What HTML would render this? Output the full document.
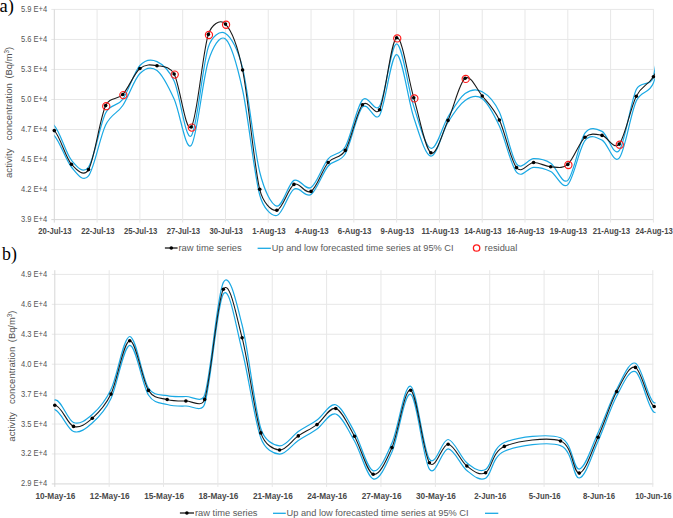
<!DOCTYPE html><html><head><meta charset="utf-8"><style>
html,body{margin:0;padding:0;background:#fff;overflow:hidden;}
svg{display:block;}
text{font-family:"Liberation Sans",sans-serif;}
.yl{font-size:8.6px;fill:#555555;}
.xl{font-size:8.4px;font-weight:bold;fill:#494949;}
.lg{font-size:9.6px;fill:#595959;}
.tt{font-size:9.6px;fill:#505050;}
.pl{font-family:"Liberation Serif",serif;font-size:18.5px;fill:#000;}
</style></head><body>
<svg width="673" height="518" viewBox="0 0 673 518">
<rect width="673" height="518" fill="#fff"/>
<line x1="51.3" y1="9.4" x2="653.9" y2="9.4" stroke="#e7e7e7" stroke-width="1"/>
<line x1="51.3" y1="39.43" x2="653.9" y2="39.43" stroke="#e7e7e7" stroke-width="1"/>
<line x1="51.3" y1="69.46" x2="653.9" y2="69.46" stroke="#e7e7e7" stroke-width="1"/>
<line x1="51.3" y1="99.49" x2="653.9" y2="99.49" stroke="#e7e7e7" stroke-width="1"/>
<line x1="51.3" y1="129.52" x2="653.9" y2="129.52" stroke="#e7e7e7" stroke-width="1"/>
<line x1="51.3" y1="159.55" x2="653.9" y2="159.55" stroke="#e7e7e7" stroke-width="1"/>
<line x1="51.3" y1="189.58" x2="653.9" y2="189.58" stroke="#e7e7e7" stroke-width="1"/>
<line x1="51.3" y1="219.61" x2="653.9" y2="219.61" stroke="#d6d6d6" stroke-width="1"/>
<line x1="54.3" y1="9.4" x2="54.3" y2="222.61" stroke="#d6d6d6" stroke-width="1"/>
<line x1="97.09" y1="9.4" x2="97.09" y2="222.61" stroke="#e7e7e7" stroke-width="1"/>
<line x1="139.89" y1="9.4" x2="139.89" y2="222.61" stroke="#e7e7e7" stroke-width="1"/>
<line x1="182.68" y1="9.4" x2="182.68" y2="222.61" stroke="#e7e7e7" stroke-width="1"/>
<line x1="225.47" y1="9.4" x2="225.47" y2="222.61" stroke="#e7e7e7" stroke-width="1"/>
<line x1="268.26" y1="9.4" x2="268.26" y2="222.61" stroke="#e7e7e7" stroke-width="1"/>
<line x1="311.06" y1="9.4" x2="311.06" y2="222.61" stroke="#e7e7e7" stroke-width="1"/>
<line x1="353.85" y1="9.4" x2="353.85" y2="222.61" stroke="#e7e7e7" stroke-width="1"/>
<line x1="396.64" y1="9.4" x2="396.64" y2="222.61" stroke="#e7e7e7" stroke-width="1"/>
<line x1="439.44" y1="9.4" x2="439.44" y2="222.61" stroke="#e7e7e7" stroke-width="1"/>
<line x1="482.23" y1="9.4" x2="482.23" y2="222.61" stroke="#e7e7e7" stroke-width="1"/>
<line x1="525.02" y1="9.4" x2="525.02" y2="222.61" stroke="#e7e7e7" stroke-width="1"/>
<line x1="567.81" y1="9.4" x2="567.81" y2="222.61" stroke="#e7e7e7" stroke-width="1"/>
<line x1="610.61" y1="9.4" x2="610.61" y2="222.61" stroke="#e7e7e7" stroke-width="1"/>
<line x1="653.4" y1="9.4" x2="653.4" y2="222.61" stroke="#e7e7e7" stroke-width="1"/>
<text x="47.2" y="11.9" text-anchor="end" textLength="26.2" lengthAdjust="spacingAndGlyphs" class="yl">5.9 E+4</text>
<text x="47.2" y="41.93" text-anchor="end" textLength="26.2" lengthAdjust="spacingAndGlyphs" class="yl">5.6 E+4</text>
<text x="47.2" y="71.96" text-anchor="end" textLength="26.2" lengthAdjust="spacingAndGlyphs" class="yl">5.3 E+4</text>
<text x="47.2" y="101.99" text-anchor="end" textLength="26.2" lengthAdjust="spacingAndGlyphs" class="yl">5.0 E+4</text>
<text x="47.2" y="132.02" text-anchor="end" textLength="26.2" lengthAdjust="spacingAndGlyphs" class="yl">4.7 E+4</text>
<text x="47.2" y="162.05" text-anchor="end" textLength="26.2" lengthAdjust="spacingAndGlyphs" class="yl">4.5 E+4</text>
<text x="47.2" y="192.08" text-anchor="end" textLength="26.2" lengthAdjust="spacingAndGlyphs" class="yl">4.2 E+4</text>
<text x="47.2" y="222.11" text-anchor="end" textLength="26.2" lengthAdjust="spacingAndGlyphs" class="yl">3.9 E+4</text>
<text x="55" y="233.9" text-anchor="middle" textLength="33.3" lengthAdjust="spacingAndGlyphs" class="xl">20-Jul-13</text>
<text x="97.79" y="233.9" text-anchor="middle" textLength="33.3" lengthAdjust="spacingAndGlyphs" class="xl">22-Jul-13</text>
<text x="140.59" y="233.9" text-anchor="middle" textLength="33.3" lengthAdjust="spacingAndGlyphs" class="xl">25-Jul-13</text>
<text x="183.38" y="233.9" text-anchor="middle" textLength="33.3" lengthAdjust="spacingAndGlyphs" class="xl">27-Jul-13</text>
<text x="226.17" y="233.9" text-anchor="middle" textLength="33.3" lengthAdjust="spacingAndGlyphs" class="xl">30-Jul-13</text>
<text x="268.96" y="233.9" text-anchor="middle" textLength="33.5" lengthAdjust="spacingAndGlyphs" class="xl">1-Aug-13</text>
<text x="311.76" y="233.9" text-anchor="middle" textLength="33.5" lengthAdjust="spacingAndGlyphs" class="xl">4-Aug-13</text>
<text x="354.55" y="233.9" text-anchor="middle" textLength="33.5" lengthAdjust="spacingAndGlyphs" class="xl">6-Aug-13</text>
<text x="397.34" y="233.9" text-anchor="middle" textLength="33.5" lengthAdjust="spacingAndGlyphs" class="xl">9-Aug-13</text>
<text x="440.14" y="233.9" text-anchor="middle" textLength="37.3" lengthAdjust="spacingAndGlyphs" class="xl">11-Aug-13</text>
<text x="482.93" y="233.9" text-anchor="middle" textLength="37.3" lengthAdjust="spacingAndGlyphs" class="xl">14-Aug-13</text>
<text x="525.72" y="233.9" text-anchor="middle" textLength="37.3" lengthAdjust="spacingAndGlyphs" class="xl">16-Aug-13</text>
<text x="568.51" y="233.9" text-anchor="middle" textLength="37.3" lengthAdjust="spacingAndGlyphs" class="xl">19-Aug-13</text>
<text x="611.31" y="233.9" text-anchor="middle" textLength="37.3" lengthAdjust="spacingAndGlyphs" class="xl">21-Aug-13</text>
<text x="654.1" y="233.9" text-anchor="middle" textLength="37.3" lengthAdjust="spacingAndGlyphs" class="xl">24-Aug-13</text>
<line x1="51.8" y1="274.4" x2="653.3" y2="274.4" stroke="#e7e7e7" stroke-width="1"/>
<line x1="51.8" y1="304.33" x2="653.3" y2="304.33" stroke="#e7e7e7" stroke-width="1"/>
<line x1="51.8" y1="334.26" x2="653.3" y2="334.26" stroke="#e7e7e7" stroke-width="1"/>
<line x1="51.8" y1="364.19" x2="653.3" y2="364.19" stroke="#e7e7e7" stroke-width="1"/>
<line x1="51.8" y1="394.12" x2="653.3" y2="394.12" stroke="#e7e7e7" stroke-width="1"/>
<line x1="51.8" y1="424.05" x2="653.3" y2="424.05" stroke="#e7e7e7" stroke-width="1"/>
<line x1="51.8" y1="453.98" x2="653.3" y2="453.98" stroke="#e7e7e7" stroke-width="1"/>
<line x1="51.8" y1="483.91" x2="653.3" y2="483.91" stroke="#d6d6d6" stroke-width="1"/>
<line x1="54.8" y1="270.2" x2="54.8" y2="486.91" stroke="#d6d6d6" stroke-width="1"/>
<line x1="109.16" y1="270.2" x2="109.16" y2="486.91" stroke="#e7e7e7" stroke-width="1"/>
<line x1="163.53" y1="270.2" x2="163.53" y2="486.91" stroke="#e7e7e7" stroke-width="1"/>
<line x1="217.89" y1="270.2" x2="217.89" y2="486.91" stroke="#e7e7e7" stroke-width="1"/>
<line x1="272.25" y1="270.2" x2="272.25" y2="486.91" stroke="#e7e7e7" stroke-width="1"/>
<line x1="326.62" y1="270.2" x2="326.62" y2="486.91" stroke="#e7e7e7" stroke-width="1"/>
<line x1="380.98" y1="270.2" x2="380.98" y2="486.91" stroke="#e7e7e7" stroke-width="1"/>
<line x1="435.35" y1="270.2" x2="435.35" y2="486.91" stroke="#e7e7e7" stroke-width="1"/>
<line x1="489.71" y1="270.2" x2="489.71" y2="486.91" stroke="#e7e7e7" stroke-width="1"/>
<line x1="544.07" y1="270.2" x2="544.07" y2="486.91" stroke="#e7e7e7" stroke-width="1"/>
<line x1="598.44" y1="270.2" x2="598.44" y2="486.91" stroke="#e7e7e7" stroke-width="1"/>
<line x1="652.8" y1="270.2" x2="652.8" y2="486.91" stroke="#e7e7e7" stroke-width="1"/>
<text x="47.2" y="276.9" text-anchor="end" textLength="26.2" lengthAdjust="spacingAndGlyphs" class="yl">4.9 E+4</text>
<text x="47.2" y="306.83" text-anchor="end" textLength="26.2" lengthAdjust="spacingAndGlyphs" class="yl">4.6 E+4</text>
<text x="47.2" y="336.76" text-anchor="end" textLength="26.2" lengthAdjust="spacingAndGlyphs" class="yl">4.3 E+4</text>
<text x="47.2" y="366.69" text-anchor="end" textLength="26.2" lengthAdjust="spacingAndGlyphs" class="yl">4.0 E+4</text>
<text x="47.2" y="396.62" text-anchor="end" textLength="26.2" lengthAdjust="spacingAndGlyphs" class="yl">3.7 E+4</text>
<text x="47.2" y="426.55" text-anchor="end" textLength="26.2" lengthAdjust="spacingAndGlyphs" class="yl">3.5 E+4</text>
<text x="47.2" y="456.48" text-anchor="end" textLength="26.2" lengthAdjust="spacingAndGlyphs" class="yl">3.2 E+4</text>
<text x="47.2" y="486.41" text-anchor="end" textLength="26.2" lengthAdjust="spacingAndGlyphs" class="yl">2.9 E+4</text>
<text x="55.4" y="498.8" text-anchor="middle" textLength="39.9" lengthAdjust="spacingAndGlyphs" class="xl">10-May-16</text>
<text x="109.76" y="498.8" text-anchor="middle" textLength="39.9" lengthAdjust="spacingAndGlyphs" class="xl">12-May-16</text>
<text x="164.13" y="498.8" text-anchor="middle" textLength="39.9" lengthAdjust="spacingAndGlyphs" class="xl">15-May-16</text>
<text x="218.49" y="498.8" text-anchor="middle" textLength="39.9" lengthAdjust="spacingAndGlyphs" class="xl">18-May-16</text>
<text x="272.85" y="498.8" text-anchor="middle" textLength="39.9" lengthAdjust="spacingAndGlyphs" class="xl">21-May-16</text>
<text x="327.22" y="498.8" text-anchor="middle" textLength="39.9" lengthAdjust="spacingAndGlyphs" class="xl">24-May-16</text>
<text x="381.58" y="498.8" text-anchor="middle" textLength="39.9" lengthAdjust="spacingAndGlyphs" class="xl">27-May-16</text>
<text x="435.95" y="498.8" text-anchor="middle" textLength="39.9" lengthAdjust="spacingAndGlyphs" class="xl">30-May-16</text>
<text x="490.31" y="498.8" text-anchor="middle" textLength="32" lengthAdjust="spacingAndGlyphs" class="xl">2-Jun-16</text>
<text x="544.67" y="498.8" text-anchor="middle" textLength="32" lengthAdjust="spacingAndGlyphs" class="xl">5-Jun-16</text>
<text x="599.04" y="498.8" text-anchor="middle" textLength="32" lengthAdjust="spacingAndGlyphs" class="xl">8-Jun-16</text>
<text x="653.4" y="498.8" text-anchor="middle" textLength="36.4" lengthAdjust="spacingAndGlyphs" class="xl">10-Jun-16</text>
<defs><clipPath id="ca"><rect x="54.3" y="0" width="600.6" height="240"/></clipPath><clipPath id="cb"><rect x="54.5" y="255" width="601" height="240"/></clipPath></defs>
<g clip-path="url(#ca)">
<path d="M37.18,127 C40.04,126.77 48.59,120.07 54.3,125.6 C60.01,131.13 65.71,153.3 71.42,160.2 C77.12,167.1 83.13,174.45 88.53,167 C94.24,159.13 99.95,124.28 105.65,113 C110.6,103.22 117.06,107.22 122.77,99.3 C128.47,91.38 134.18,71.78 139.89,65.5 C145.59,59.22 151.3,59.02 157,61.6 C162.71,64.18 168.71,69.25 174.12,81 C179.83,93.38 185.53,141.57 191.24,135.9 C196.94,130.23 202.65,64.08 208.35,47 C211.82,36.63 219.77,29.9 225.47,33.4 C231.18,36.9 237.96,49.26 242.59,68 C248.29,91.1 254,148.98 259.71,172 C264.3,190.52 271.12,204.7 276.82,206.1 C282.53,207.5 288.23,183.5 293.94,180.4 C299.65,177.3 305.35,191.08 311.06,187.5 C316.76,183.92 322.47,165.7 328.17,158.9 C333.88,152.1 340.01,155.79 345.29,146.7 C351,136.88 356.7,106.75 362.41,100 C368.11,93.25 374.78,113.97 379.53,106.2 C385.23,96.85 390.94,43.87 396.64,43.9 C402.35,43.93 408.05,89 413.76,106.4 C419.47,123.8 425.17,146.53 430.88,148.3 C436.58,150.07 442.29,126.13 447.99,117 C453.7,107.87 459.41,97.72 465.11,93.5 C470.82,89.28 476.52,88.62 482.23,91.7 C487.93,94.78 493.65,100.01 499.35,112 C505.05,124.02 510.76,156.02 516.46,163.8 C521.74,171 527.87,158.8 533.58,158.7 C539.29,158.6 544.99,159.58 550.7,163.2 C556.4,166.82 562.11,185.4 567.81,180.4 C573.52,175.4 579.23,141.37 584.93,133.2 C589.86,126.15 596.34,128.5 602.05,131.4 C607.75,134.3 613.46,157.58 619.17,150.6 C624.87,143.62 630.58,101.77 636.28,89.5 C640.75,79.89 650.96,87.31 653.4,77 C659.11,52.92 667.66,-33 670.52,-55" fill="none" stroke="#1aa9e4" stroke-width="1.2"/>
<path d="M37.18,131 C40.04,131.78 48.59,129.7 54.3,135.7 C60.01,141.7 65.71,160.3 71.42,167 C77.12,173.7 82.83,182.9 88.53,175.9 C94.24,168.9 99.95,136.73 105.65,125 C111.32,113.33 117.06,114.08 122.77,105.5 C128.47,96.92 134.18,79.33 139.89,73.5 C145.59,67.67 151.3,66.25 157,70.5 C162.71,74.75 168.41,86.52 174.12,99 C179.83,111.48 185.53,151.73 191.24,145.4 C196.94,139.07 202.65,78.73 208.35,61 C212.62,47.73 219.77,34.17 225.47,39 C231.18,43.83 236.88,64 242.59,90 C248.29,116 254,174.08 259.71,195 C263.22,207.88 271.12,216.47 276.82,215.5 C282.53,214.53 288.23,192.7 293.94,189.2 C299.65,185.7 305.35,198.37 311.06,194.5 C316.76,190.63 322.47,172.78 328.17,166 C333.88,159.22 340,162.88 345.29,153.8 C351,144 356.7,113.62 362.41,107.2 C368.11,100.78 374.35,123.23 379.53,115.3 C385.23,106.55 390.94,54.33 396.64,54.7 C402.35,55.07 408.05,100.6 413.76,117.5 C419.47,134.4 425.17,155.32 430.88,156.1 C436.58,156.88 442.29,131.48 447.99,122.2 C453.7,112.92 459.41,104.32 465.11,100.4 C470.82,96.48 476.52,94.43 482.23,98.7 C487.93,102.97 493.64,113.77 499.35,126 C505.05,138.23 510.76,165.22 516.46,172.1 C522.14,178.94 527.87,167.4 533.58,167.3 C539.29,167.2 544.99,168.62 550.7,171.5 C556.4,174.38 562.11,189.73 567.81,184.6 C573.52,179.47 579.23,148.12 584.93,140.7 C590.15,133.91 596.34,137.2 602.05,140.1 C607.75,143 613.46,164.62 619.17,158.1 C624.87,151.58 630.58,113.52 636.28,101 C641.43,89.7 648.81,94.54 653.4,83 C659.11,68.67 667.66,26.33 670.52,15" fill="none" stroke="#1aa9e4" stroke-width="1.2"/>
<path d="M37.18,131 C40.04,130.93 48.59,125.07 54.3,130.6 C60.01,136.13 65.71,157.7 71.42,164.2 C77.12,170.7 84.01,177.35 88.53,169.6 C94.24,159.83 99.95,118.12 105.65,105.6 C109.88,96.32 117.06,100.68 122.77,94.5 C128.47,88.32 134.18,73.3 139.89,68.5 C145.59,63.7 151.3,64.78 157,65.7 C162.71,66.62 169.48,65.7 174.12,74 C179.83,84.22 185.53,133.6 191.24,127 C196.94,120.4 202.65,51.55 208.35,34.4 C211.51,24.92 219.77,18.17 225.47,24.1 C231.18,30.03 237.62,46.02 242.59,70 C248.29,97.53 254,165.92 259.71,189.3 C262.92,202.46 271.12,211.12 276.82,210.3 C282.53,209.48 288.23,187.55 293.94,184.4 C299.65,181.25 305.35,195.05 311.06,191.4 C316.76,187.75 322.47,169.33 328.17,162.5 C333.88,155.67 339.94,159.41 345.29,150.4 C351,140.78 356.7,111.57 362.41,104.8 C368.11,98.03 375.47,117.74 379.53,109.8 C385.23,98.63 390.94,39.8 396.64,37.8 C402.35,35.8 408.05,78.65 413.76,97.8 C419.47,116.95 425.17,148.93 430.88,152.7 C436.58,156.47 442.29,132.8 447.99,120.4 C453.7,108 459.41,82.37 465.11,78.3 C470.82,74.23 476.52,89.03 482.23,96 C487.93,102.97 493.64,108.17 499.35,120.1 C505.05,132.03 510.76,160.53 516.46,167.6 C522.07,174.55 527.87,162.65 533.58,162.5 C539.29,162.35 544.99,166.38 550.7,166.7 C556.4,167.02 562.11,169.3 567.81,164.4 C573.52,159.5 579.23,142.13 584.93,137.3 C590.64,132.47 596.34,134.27 602.05,135.4 C607.75,136.53 613.46,150.63 619.17,144.1 C624.87,137.57 630.58,107.43 636.28,96.2 C641.99,84.97 647.69,86.07 653.4,76.7 C659.11,67.33 667.66,46.12 670.52,40" fill="none" stroke="#1a1a1a" stroke-width="1.1"/>
</g>
<circle cx="54.3" cy="130.6" r="1.8" fill="#000"/>
<circle cx="71.42" cy="164.2" r="1.8" fill="#000"/>
<circle cx="88.53" cy="169.6" r="1.8" fill="#000"/>
<circle cx="105.65" cy="105.6" r="1.8" fill="#000"/>
<circle cx="122.77" cy="94.5" r="1.8" fill="#000"/>
<circle cx="139.89" cy="68.5" r="1.8" fill="#000"/>
<circle cx="157" cy="65.7" r="1.8" fill="#000"/>
<circle cx="174.12" cy="74" r="1.8" fill="#000"/>
<circle cx="191.24" cy="127" r="1.8" fill="#000"/>
<circle cx="208.35" cy="34.4" r="1.8" fill="#000"/>
<circle cx="225.47" cy="24.1" r="1.8" fill="#000"/>
<circle cx="242.59" cy="70" r="1.8" fill="#000"/>
<circle cx="259.71" cy="189.3" r="1.8" fill="#000"/>
<circle cx="276.82" cy="210.3" r="1.8" fill="#000"/>
<circle cx="293.94" cy="184.4" r="1.8" fill="#000"/>
<circle cx="311.06" cy="191.4" r="1.8" fill="#000"/>
<circle cx="328.17" cy="162.5" r="1.8" fill="#000"/>
<circle cx="345.29" cy="150.4" r="1.8" fill="#000"/>
<circle cx="362.41" cy="104.8" r="1.8" fill="#000"/>
<circle cx="379.53" cy="109.8" r="1.8" fill="#000"/>
<circle cx="396.64" cy="37.8" r="1.8" fill="#000"/>
<circle cx="413.76" cy="97.8" r="1.8" fill="#000"/>
<circle cx="430.88" cy="152.7" r="1.8" fill="#000"/>
<circle cx="447.99" cy="120.4" r="1.8" fill="#000"/>
<circle cx="465.11" cy="78.3" r="1.8" fill="#000"/>
<circle cx="482.23" cy="96" r="1.8" fill="#000"/>
<circle cx="499.35" cy="120.1" r="1.8" fill="#000"/>
<circle cx="516.46" cy="167.6" r="1.8" fill="#000"/>
<circle cx="533.58" cy="162.5" r="1.8" fill="#000"/>
<circle cx="550.7" cy="166.7" r="1.8" fill="#000"/>
<circle cx="567.81" cy="164.4" r="1.8" fill="#000"/>
<circle cx="584.93" cy="137.3" r="1.8" fill="#000"/>
<circle cx="602.05" cy="135.4" r="1.8" fill="#000"/>
<circle cx="619.17" cy="144.1" r="1.8" fill="#000"/>
<circle cx="636.28" cy="96.2" r="1.8" fill="#000"/>
<circle cx="653.4" cy="76.7" r="1.8" fill="#000"/>
<circle cx="106.25" cy="106.2" r="3.6" fill="none" stroke="#ff1a1a" stroke-width="1.15"/>
<circle cx="123.37" cy="95.1" r="3.6" fill="none" stroke="#ff1a1a" stroke-width="1.15"/>
<circle cx="174.72" cy="74.6" r="3.6" fill="none" stroke="#ff1a1a" stroke-width="1.15"/>
<circle cx="191.84" cy="127.6" r="3.6" fill="none" stroke="#ff1a1a" stroke-width="1.15"/>
<circle cx="208.95" cy="35" r="3.6" fill="none" stroke="#ff1a1a" stroke-width="1.15"/>
<circle cx="226.07" cy="24.7" r="3.6" fill="none" stroke="#ff1a1a" stroke-width="1.15"/>
<circle cx="397.24" cy="38.4" r="3.6" fill="none" stroke="#ff1a1a" stroke-width="1.15"/>
<circle cx="414.36" cy="98.4" r="3.6" fill="none" stroke="#ff1a1a" stroke-width="1.15"/>
<circle cx="465.71" cy="78.9" r="3.6" fill="none" stroke="#ff1a1a" stroke-width="1.15"/>
<circle cx="568.41" cy="165" r="3.6" fill="none" stroke="#ff1a1a" stroke-width="1.15"/>
<circle cx="619.77" cy="144.7" r="3.6" fill="none" stroke="#ff1a1a" stroke-width="1.15"/>
<g clip-path="url(#cb)">
<path d="M36.07,431 C39.19,425.82 48.56,401.32 54.8,399.9 C61.04,398.48 67.29,420.07 73.53,422.5 C79.77,424.93 86.02,420 92.26,414.5 C98.5,409 104.75,402.5 110.99,389.5 C117.23,376.5 123.48,336.75 129.72,336.5 C135.96,336.25 142.21,378.13 148.45,388 C153.86,396.56 160.94,394.28 167.18,395.7 C173.42,397.12 179.67,396.62 185.91,396.5 C192.15,396.38 201.71,403.93 204.64,395 C210.88,375.98 217.13,294.07 223.37,282.4 C229.61,270.73 236.32,302.46 242.1,325 C248.34,349.35 254.59,408.35 260.83,428.5 C264.61,440.71 273.32,445.4 279.56,445.9 C285.8,446.4 292.05,435.82 298.29,431.5 C304.53,427.18 310.78,424.45 317.02,420 C323.26,415.55 329.51,402.8 335.75,404.8 C341.99,406.8 348.24,421 354.48,432 C360.72,443 366.97,468.97 373.21,470.8 C379.45,472.63 385.7,457.1 391.94,443 C398.18,428.9 404.43,383.5 410.67,386.2 C416.91,388.9 423.16,450.32 429.4,459.2 C435.64,468.08 441.89,438.9 448.13,439.5 C454.37,440.1 460.62,457.8 466.86,462.8 C473.1,467.8 479.35,472.88 485.59,469.5 C491.83,466.12 491.83,447.8 504.32,442.5 C516.81,437.2 548.02,433.27 560.51,437.7 C573,442.13 573,469.88 579.24,469.1 C585.48,468.32 591.73,446.32 597.97,433 C604.21,419.68 610.46,400.83 616.7,389.2 C622.94,377.57 629.19,360.95 635.43,363.2 C641.67,365.45 647.92,399.73 654.16,402.7 C660.4,405.67 669.77,384.62 672.89,381" fill="none" stroke="#1aa9e4" stroke-width="1.2"/>
<path d="M36.07,421 C39.19,419.1 48.56,407.85 54.8,409.6 C61.04,411.35 67.29,429.27 73.53,431.5 C79.77,433.73 86.02,428.5 92.26,423 C98.5,417.5 104.75,411.45 110.99,398.5 C117.23,385.55 123.48,345.88 129.72,345.3 C135.96,344.72 142.21,385.13 148.45,395 C154.06,403.87 160.94,402.67 167.18,404.5 C173.42,406.33 179.67,406.08 185.91,406 C192.15,405.92 201.65,412.93 204.64,404 C210.88,385.32 217.13,302.82 223.37,293.9 C229.61,284.98 235.86,326.48 242.1,350.5 C248.34,374.52 254.59,420.72 260.83,438 C265.04,449.65 273.32,453.78 279.56,454.2 C285.8,454.62 292.05,444.7 298.29,440.5 C304.53,436.3 310.78,433.42 317.02,429 C323.26,424.58 329.51,412 335.75,414 C341.99,416 348.24,430.18 354.48,441 C360.72,451.82 366.97,477.07 373.21,478.9 C379.45,480.73 385.7,466.1 391.94,452 C398.18,437.9 404.43,391.43 410.67,394.3 C416.91,397.17 423.16,460.12 429.4,469.2 C435.64,478.28 441.89,448.58 448.13,448.8 C454.37,449.02 460.62,465.6 466.86,470.5 C473.1,475.4 479.35,481.42 485.59,478.2 C491.83,474.98 491.83,456.63 504.32,451.2 C516.81,445.77 548.02,441.13 560.51,445.6 C573,450.07 573,478.68 579.24,478 C585.48,477.32 591.73,455.17 597.97,441.5 C604.21,427.83 610.46,407.65 616.7,396 C622.94,384.35 629.19,368.9 635.43,371.6 C641.67,374.3 647.92,408.97 654.16,412.2 C660.4,415.43 669.77,394.53 672.89,391" fill="none" stroke="#1aa9e4" stroke-width="1.2"/>
<path d="M36.07,429 C39.19,425.03 48.56,405.63 54.8,405.2 C61.04,404.77 67.29,424.22 73.53,426.4 C79.77,428.58 86.02,423.68 92.26,418.3 C98.5,412.92 104.75,407.02 110.99,394.1 C117.23,381.18 123.48,341.42 129.72,340.8 C135.96,340.18 142.21,380.62 148.45,390.4 C154.05,399.18 160.94,397.73 167.18,399.5 C173.42,401.27 179.67,401.02 185.91,401 C192.15,400.98 201.65,408.31 204.64,399.4 C210.88,380.78 217.13,299.58 223.37,289.3 C229.61,279.02 235.86,313.77 242.1,337.7 C248.34,361.63 254.59,414.18 260.83,432.9 C264.84,444.93 273.32,449.5 279.56,450 C285.8,450.5 292.05,440.13 298.29,435.9 C304.53,431.67 310.78,429.17 317.02,424.6 C323.26,420.03 329.51,406.57 335.75,408.5 C341.99,410.43 348.24,425.23 354.48,436.2 C360.72,447.17 366.97,472.4 373.21,474.3 C379.45,476.2 385.7,461.62 391.94,447.6 C398.18,433.58 404.43,387.68 410.67,390.2 C416.91,392.72 423.16,453.7 429.4,462.7 C435.64,471.7 441.89,443.65 448.13,444.2 C454.37,444.75 460.62,461.23 466.86,466 C473.1,470.77 479.35,476.07 485.59,472.8 C491.83,469.53 491.83,451.7 504.32,446.4 C516.81,441.1 548.02,436.55 560.51,441 C573,445.45 573,473.73 579.24,473.1 C585.48,472.47 591.73,450.78 597.97,437.2 C604.21,423.62 610.46,403.23 616.7,391.6 C622.94,379.97 629.19,364.92 635.43,367.4 C641.67,369.88 647.92,403.57 654.16,406.5 C660.4,409.43 669.77,388.58 672.89,385" fill="none" stroke="#1a1a1a" stroke-width="1.1"/>
</g>
<circle cx="54.8" cy="405.2" r="1.8" fill="#000"/>
<circle cx="73.53" cy="426.4" r="1.8" fill="#000"/>
<circle cx="92.26" cy="418.3" r="1.8" fill="#000"/>
<circle cx="110.99" cy="394.1" r="1.8" fill="#000"/>
<circle cx="129.72" cy="340.8" r="1.8" fill="#000"/>
<circle cx="148.45" cy="390.4" r="1.8" fill="#000"/>
<circle cx="167.18" cy="399.5" r="1.8" fill="#000"/>
<circle cx="185.91" cy="401" r="1.8" fill="#000"/>
<circle cx="204.64" cy="399.4" r="1.8" fill="#000"/>
<circle cx="223.37" cy="289.3" r="1.8" fill="#000"/>
<circle cx="242.1" cy="337.7" r="1.8" fill="#000"/>
<circle cx="260.83" cy="432.9" r="1.8" fill="#000"/>
<circle cx="279.56" cy="450" r="1.8" fill="#000"/>
<circle cx="298.29" cy="435.9" r="1.8" fill="#000"/>
<circle cx="317.02" cy="424.6" r="1.8" fill="#000"/>
<circle cx="335.75" cy="408.5" r="1.8" fill="#000"/>
<circle cx="354.48" cy="436.2" r="1.8" fill="#000"/>
<circle cx="373.21" cy="474.3" r="1.8" fill="#000"/>
<circle cx="391.94" cy="447.6" r="1.8" fill="#000"/>
<circle cx="410.67" cy="390.2" r="1.8" fill="#000"/>
<circle cx="429.4" cy="462.7" r="1.8" fill="#000"/>
<circle cx="448.13" cy="444.2" r="1.8" fill="#000"/>
<circle cx="466.86" cy="466" r="1.8" fill="#000"/>
<circle cx="485.59" cy="472.8" r="1.8" fill="#000"/>
<circle cx="504.32" cy="446.4" r="1.8" fill="#000"/>
<circle cx="560.51" cy="441" r="1.8" fill="#000"/>
<circle cx="579.24" cy="473.1" r="1.8" fill="#000"/>
<circle cx="597.97" cy="437.2" r="1.8" fill="#000"/>
<circle cx="616.7" cy="391.6" r="1.8" fill="#000"/>
<circle cx="635.43" cy="367.4" r="1.8" fill="#000"/>
<circle cx="654.16" cy="406.5" r="1.8" fill="#000"/>
<text transform="translate(12.1,178) rotate(-90)" textLength="29.5" lengthAdjust="spacingAndGlyphs" class="tt">activity</text>
<text transform="translate(12.1,140.3) rotate(-90)" textLength="57.2" lengthAdjust="spacingAndGlyphs" class="tt">concentration</text>
<text transform="translate(12.1,78.5) rotate(-90)" textLength="31.6" lengthAdjust="spacingAndGlyphs" class="tt">(Bq/m<tspan font-size="6.5" dy="-3.6">3</tspan><tspan dy="3.6">)</tspan></text>
<text transform="translate(15.4,441.7) rotate(-90)" textLength="29.5" lengthAdjust="spacingAndGlyphs" class="tt">activity</text>
<text transform="translate(15.4,404) rotate(-90)" textLength="57.2" lengthAdjust="spacingAndGlyphs" class="tt">concentration</text>
<text transform="translate(15.4,342.2) rotate(-90)" textLength="31.6" lengthAdjust="spacingAndGlyphs" class="tt">(Bq/m<tspan font-size="6.5" dy="-3.6">3</tspan><tspan dy="3.6">)</tspan></text>
<text x="-0.5" y="12" class="pl">a)</text>
<text x="2.1" y="260.2" class="pl" style="font-size:17.8px">b)</text>
<line x1="164.9" y1="248" x2="177.6" y2="248" stroke="#1a1a1a" stroke-width="1.3"/>
<circle cx="171.3" cy="248" r="1.8" fill="#000"/>
<text x="178.4" y="251" textLength="63.4" lengthAdjust="spacingAndGlyphs" class="lg">raw time series</text>
<line x1="257.6" y1="248.3" x2="270.9" y2="248.3" stroke="#1aa9e4" stroke-width="1.3"/>
<text x="271.8" y="251" textLength="181.7" lengthAdjust="spacingAndGlyphs" class="lg">Up and low forecasted time series at 95% CI</text>
<circle cx="476.6" cy="248" r="3.2" fill="none" stroke="#ff1a1a" stroke-width="1.3"/>
<text x="484.6" y="251" textLength="32.7" lengthAdjust="spacingAndGlyphs" class="lg">residual</text>
<line x1="179.9" y1="513" x2="194" y2="513" stroke="#1a1a1a" stroke-width="1.3"/>
<circle cx="186.9" cy="513" r="1.8" fill="#000"/>
<text x="195" y="516" textLength="62.5" lengthAdjust="spacingAndGlyphs" class="lg">raw time series</text>
<line x1="273" y1="513.3" x2="285.8" y2="513.3" stroke="#1aa9e4" stroke-width="1.3"/>
<text x="286.6" y="516" textLength="182" lengthAdjust="spacingAndGlyphs" class="lg">Up and low forecasted time series at 95% CI</text>
<line x1="485" y1="513.3" x2="498.3" y2="513.3" stroke="#1aa9e4" stroke-width="1.3"/>
</svg></body></html>
